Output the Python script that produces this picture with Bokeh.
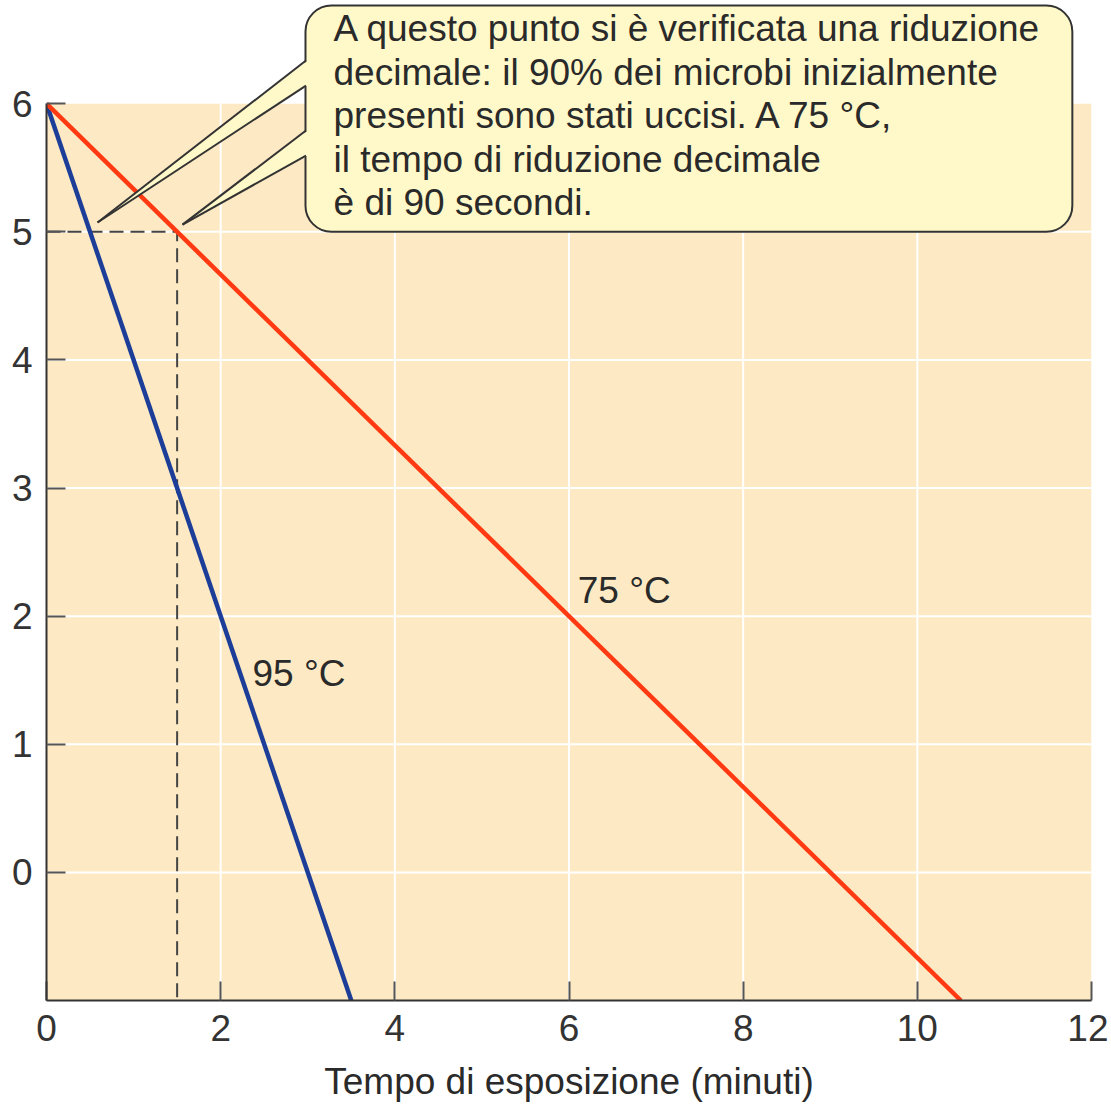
from bokeh.plotting import figure
from bokeh.models import Range1d, FixedTicker
from bokeh.core.properties import value
from bokeh.embed import file_html
from bokeh.resources import INLINE

# ---------------- data ----------------
time_75 = [0, 10.5]          # minutes
log_75 = [6, -1]             # log number of viable cells
time_95 = [0, 3.5]
log_95 = [6, -1]
x_ticks = [0, 2, 4, 6, 8, 10, 12]
y_ticks = [0, 1, 2, 3, 4, 5, 6]
x_label = "Tempo di esposizione (minuti)"
d_time = 1.5                 # decimal reduction time at 75 °C (min)
d_level = 5
label_75 = "75 °C"
label_95 = "95 °C"
callout_lines = [
    "A questo punto si è verificata una riduzione",
    "decimale: il 90% dei microbi inizialmente",
    "presenti sono stati uccisi. A 75 °C,",
    "il tempo di riduzione decimale",
    "è di 90 secondi.",
]

FONT = "Liberation Sans"
BG = "#FDEAC4"
BOX = "#FFF8C9"
RED = "#FF3A12"
BLUE = "#1C3E98"
TXT = "#2a2a2a"

X0, X1 = 0, 12
Y0, Y1 = -1, 6
Y_TOP = 6.805

p = figure(width=1108, height=1105, output_backend="svg", toolbar_location=None,
           x_range=Range1d(X0, X1), y_range=Range1d(Y0, Y_TOP),
           min_border_left=46, min_border_right=17, min_border_top=0,
           min_border_bottom=105)
p.grid.visible = False
p.outline_line_color = None
p.background_fill_color = "white"
p.border_fill_color = "white"

# plot background
p.quad(left=[X0], right=[X1], bottom=[Y0], top=[Y1], fill_color=BG, line_color=None)

# grid lines
gx = x_ticks[1:-1]
p.segment(x0=gx, y0=[Y0] * len(gx), x1=gx, y1=[Y1] * len(gx),
          line_color="white", line_width=2)
gy = y_ticks[:-1]
p.segment(x0=[X0] * len(gy), y0=gy, x1=[X1] * len(gy), y1=gy,
          line_color="white", line_width=2)

# dashed guide
p.line([X0, d_time, d_time], [d_level, d_level, Y0], line_color="#444444",
       line_width=2, line_dash="14 7")

# curves
p.line(time_95, log_95, line_color=BLUE, line_width=4.5)
p.line(time_75, log_75, line_color=RED, line_width=4.5)

# callout box
bl, br, bb, bt = 2.974, 11.78, 5.0, 6.766
p.quad(left=[bl], right=[br], bottom=[bb], top=[bt], fill_color=BOX,
       line_color="#333333", line_width=2, border_radius=26)

# pointers
tips = [(0.586, 5.072), (1.562, 5.056)]
bases = [((3.0, 6.337), (3.0, 6.141)), ((3.0, 5.790), (3.0, 5.595))]
for (tx, ty), ((ax, ay), (cx, cy)) in zip(tips, bases):
    p.patch([ax, tx, cx], [ay, ty, cy], fill_color=BOX, line_color=None)
    p.multi_line([[ax - 0.02, tx], [cx - 0.02, tx]], [[ay, ty], [cy, ty]],
                 line_color="#333333", line_width=2)

# callout text
n = len(callout_lines)
p.text(x=[3.296] * n, y=[6.586 - 0.3396 * i for i in range(n)], text=callout_lines,
       text_font=value(FONT), text_font_size="37px", text_color=TXT,
       text_baseline="middle", text_align="left")

# curve labels
p.text(x=[6.10], y=[2.199], text=[label_75], text_font=value(FONT),
       text_font_size="37px", text_color=TXT, text_baseline="middle")
p.text(x=[2.366], y=[1.551], text=[label_95], text_font=value(FONT),
       text_font_size="37px", text_color=TXT, text_baseline="middle")

# axes
for ax_ in (p.xaxis[0], p.yaxis[0]):
    ax_.major_tick_in = 19
    ax_.major_tick_out = 0
    ax_.minor_tick_line_color = None
    ax_.axis_line_color = "#333333"
    ax_.axis_line_width = 2
    ax_.major_tick_line_color = "#555555"
    ax_.major_tick_line_width = 2
    ax_.major_label_text_font = FONT
    ax_.major_label_text_font_size = "37px"
    ax_.major_label_text_color = "#333333"

p.xaxis.major_label_standoff = 14
p.yaxis.major_label_standoff = 14
p.xaxis.ticker = FixedTicker(ticks=x_ticks)
p.yaxis.ticker = FixedTicker(ticks=y_ticks)
p.xaxis.bounds = (X0, X1)
p.yaxis.bounds = (Y0, Y1)
p.xaxis.axis_label = x_label
p.xaxis.axis_label_text_font = FONT
p.xaxis.axis_label_text_font_size = "37px"
p.xaxis.axis_label_text_font_style = "normal"
p.xaxis.axis_label_text_color = TXT
p.xaxis.axis_label_standoff = 17

open("out.html", "w").write(file_html(p, INLINE))
